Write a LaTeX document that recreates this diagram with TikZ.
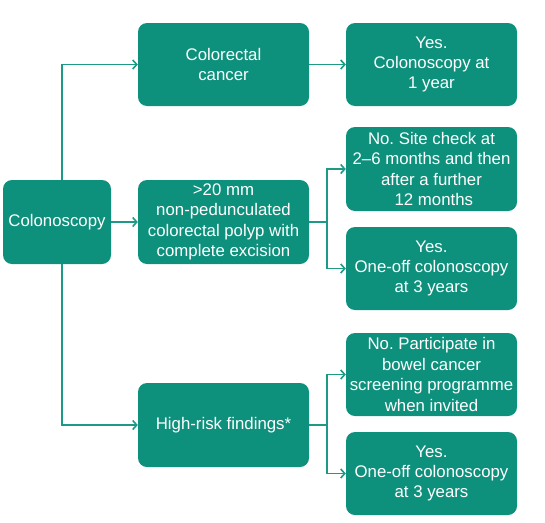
\documentclass[tikz,border=0pt]{standalone}
\usepackage{fontspec}
\setmainfont{Liberation Sans}
\usetikzlibrary{arrows.meta}
\frenchspacing
\definecolor{teal}{HTML}{0E917C}
\definecolor{tline}{HTML}{1C9A85}
\tikzset{
  box/.style={draw=none, fill=teal, rounded corners=9pt, text=white, align=center,
    font=\fontsize{16.8}{20.4}\selectfont, inner sep=0pt},
  arr/.style={draw=tline, line width=1.9pt, -{Straight Barb[length=4pt,width=9pt,line width=1.6pt]}},
  conn/.style={draw=tline, line width=1.9pt}
}
\begin{document}
\begin{tikzpicture}[x=1pt,y=-1pt]
\useasboundingbox (0,0) rectangle (545,522);
\node[box, minimum width=108pt, minimum height=84pt] (colon) at (57,222) {Colonoscopy};
\node[box, minimum width=171pt, minimum height=83pt] (crc) at (223.5,64.5) {Colorectal\\cancer};
\node[box, minimum width=171pt, minimum height=84pt] (polyp) at (223.5,222) {>20 mm\\non-pedunculated\\colorectal polyp with\\complete excision};
\node[box, minimum width=171pt, minimum height=84pt] (hr) at (223.5,425) {High-risk findings*};
\node[box, minimum width=171pt, minimum height=83pt] (r1) at (431.5,64.5) {Yes.\\Colonoscopy at\\1 year};
\node[box, minimum width=171pt, minimum height=84pt] (r2) at (431.5,169) {No. Site check at\\2--6 months and then\\after a further\\~12 months};
\node[box, minimum width=171pt, minimum height=83pt] (r3) at (431.5,268.5) {Yes.\\One-off colonoscopy\\at 3 years};
\node[box, minimum width=171pt, minimum height=83pt] (r4) at (431.5,374.5) {No. Participate in\\bowel cancer\\screening programme\\when invited};
\node[box, minimum width=171pt, minimum height=83pt] (r5) at (431.5,473.5) {Yes.\\One-off colonoscopy\\at 3 years};
\draw[arr] ([xshift=5pt]colon.north) |- (crc.west);
\draw[arr] ([xshift=5pt]colon.south) |- (hr.west);
\draw[arr] (colon.east) -- (polyp.west);
\draw[arr] (crc.east) -- (r1.west);
\draw[conn] (polyp.east) -- ++(17.5,0) coordinate (j1);
\draw[arr] (j1) |- (r2.west);
\draw[arr] (j1) |- (r3.west);
\draw[conn] (hr.east) -- ++(17.5,0) coordinate (j2);
\draw[arr] (j2) |- (r4.west);
\draw[arr] (j2) |- (r5.west);
\end{tikzpicture}
\end{document}
